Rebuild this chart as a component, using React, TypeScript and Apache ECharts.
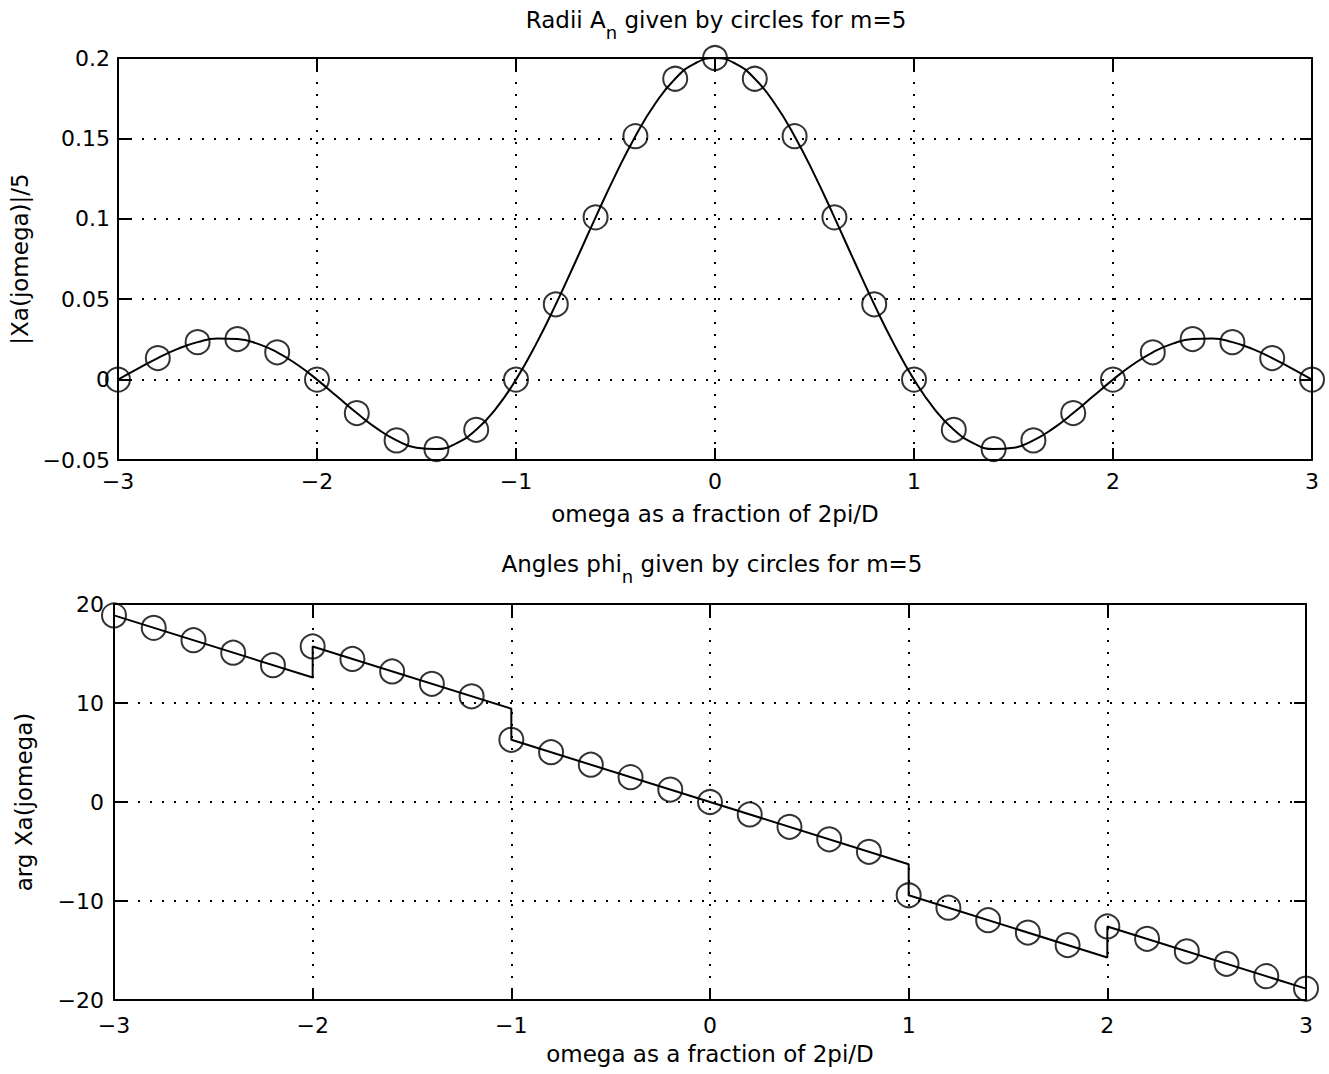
import React, { useEffect, useRef } from "react";
import * as echarts from "echarts";

// ---- Data ----
const curveX = [
  -3.0, -2.9, -2.8, -2.7, -2.6, -2.5, -2.4, -2.3, -2.2, -2.1,
  -2.0, -1.9, -1.8, -1.7, -1.6, -1.5, -1.4, -1.3, -1.2, -1.1,
  -1.0, -0.9, -0.8, -0.7, -0.6, -0.5, -0.4, -0.3, -0.2, -0.1,
  0.0, 0.1, 0.2, 0.3, 0.4, 0.5, 0.6, 0.7, 0.8, 0.9,
  1.0, 1.1, 1.2, 1.3, 1.4, 1.5, 1.6, 1.7, 1.8, 1.9,
  2.0, 2.1, 2.2, 2.3, 2.4, 2.5, 2.6, 2.7, 2.8, 2.9, 3.0,
];
const curveY = [
  0.0, 0.0068, 0.0134, 0.0191, 0.0233, 0.0255, 0.0252, 0.0224, 0.017, 0.0094,
  0.0, -0.0104, -0.0208, -0.0303, -0.0378, -0.0424, -0.0432, -0.0396, -0.0312, -0.0179,
  0.0, 0.0219, 0.0468, 0.0736, 0.1009, 0.1273, 0.1514, 0.1717, 0.1871, 0.1967,
  0.2, 0.1967, 0.1871, 0.1717, 0.1514, 0.1273, 0.1009, 0.0736, 0.0468, 0.0219,
  0.0, -0.0179, -0.0312, -0.0396, -0.0432, -0.0424, -0.0378, -0.0303, -0.0208, -0.0104,
  0.0, 0.0094, 0.017, 0.0224, 0.0252, 0.0255, 0.0233, 0.0191, 0.0134, 0.0068, 0.0,
];
const circleX = [
  -3.0, -2.8, -2.6, -2.4, -2.2, -2.0, -1.8, -1.6, -1.4, -1.2,
  -1.0, -0.8, -0.6, -0.4, -0.2, 0.0, 0.2, 0.4, 0.6, 0.8,
  1.0, 1.2, 1.4, 1.6, 1.8, 2.0, 2.2, 2.4, 2.6, 2.8, 3.0,
];
const radiiY = [
  0.0, 0.0134, 0.0233, 0.0252, 0.017, 0.0, -0.0208, -0.0378, -0.0432, -0.0312,
  0.0, 0.0468, 0.1009, 0.1514, 0.1871, 0.2, 0.1871, 0.1514, 0.1009, 0.0468,
  0.0, -0.0312, -0.0432, -0.0378, -0.0208, 0.0, 0.017, 0.0252, 0.0233, 0.0134, 0.0,
];
const anglesY = [
  18.85, 17.59, 16.34, 15.08, 13.82, 15.71, 14.45, 13.19, 11.94, 10.68,
  6.28, 5.03, 3.77, 2.51, 1.26, 0.0, -1.26, -2.51, -3.77, -5.03,
  -9.42, -10.68, -11.94, -13.19, -14.45, -12.57, -13.82, -15.08, -16.34, -17.59, -18.85,
];
const phaseLineX = [-3, -2, -2, -1, -1, 1, 1, 2, 2, 3];
const phaseLineY = [18.85, 12.57, 15.71, 9.42, 6.28, -6.28, -9.42, -15.71, -12.57, -18.85];

const xTicks = { min: -3, max: 3, interval: 1 };
const magTicks = { min: -0.05, max: 0.2, interval: 0.05 };
const phaseTicks = { min: -20, max: 20, interval: 10 };

const FONT = "'DejaVu Sans', 'Liberation Sans', Arial, sans-serif";
const zip = (xs: number[], ys: number[]) => xs.map((x, i) => [x, ys[i]]);
const fmt = (v: number) => {
  const s = String(Math.round(v * 1000) / 1000);
  return s.replace("-", "\u2212");
};

function mainAxis(kind: "x" | "y", grid: number, t: any, name: string, nameGap: number, labelMargin: number) {
  return {
    type: "value",
    gridIndex: grid,
    position: kind === "x" ? "bottom" : "left",
    min: t.min,
    max: t.max,
    interval: t.interval,
    name,
    nameLocation: "middle",
    nameGap,
    nameTextStyle: { color: "#000", fontFamily: FONT, fontSize: 23 },
    axisLine: { show: true, onZero: false, lineStyle: { color: "#000", width: 2 } },
    axisTick: { show: true, inside: true, length: 12, lineStyle: { color: "#000", width: 2 } },
    axisLabel: { color: "#000", fontFamily: FONT, fontSize: 22, margin: labelMargin, formatter: fmt },
    splitLine: { show: true, lineStyle: { color: "#000", width: 2, type: [2, 10] } },
  };
}
function sideAxis(kind: "x" | "y", grid: number, t: any) {
  return {
    type: "value",
    gridIndex: grid,
    position: kind === "x" ? "top" : "right",
    min: t.min,
    max: t.max,
    interval: t.interval,
    axisLine: { show: true, onZero: false, lineStyle: { color: "#000", width: 2 } },
    axisTick: { show: true, inside: true, length: 12, lineStyle: { color: "#000", width: 2 } },
    axisLabel: { show: false },
    splitLine: { show: false },
  };
}

const circleStyle = {
  color: "rgba(0,0,0,0)",
  borderColor: "#000",
  borderWidth: 2,
};

export default function App() {
  const ref = useRef<HTMLDivElement>(null);
  useEffect(() => {
    if (!ref.current) return;
    const chart = echarts.init(ref.current, null, { renderer: "svg" });
    const titleRich = {
      a: { fontSize: 23, fontFamily: FONT, fill: "#000", color: "#000", lineHeight: 23, verticalAlign: "top" },
      b: { fontSize: 18, fontFamily: FONT, fill: "#000", color: "#000", lineHeight: 18, verticalAlign: "top", padding: [15, 0, 0, 0] },
    };
    chart.setOption({
      animation: false,
      backgroundColor: "#fff",
      graphic: [
        {
          type: "text",
          x: 716,
          y: 8,
          style: {
            text: "{a|Radii A}{b|n}{a| given by circles for m=5}",
            rich: titleRich,
            align: "center",
            fill: "#000",
            font: `23px ${FONT}`,
          },
        },
        {
          type: "text",
          x: 712,
          y: 552,
          style: {
            text: "{a|Angles phi}{b|n}{a| given by circles for m=5}",
            rich: titleRich,
            align: "center",
            fill: "#000",
            font: `23px ${FONT}`,
          },
        },
      ],
      grid: [
        { left: 118, right: 17, top: 58, height: 402 },
        { left: 114, right: 23, top: 604, height: 396 },
      ],
      xAxis: [
        mainAxis("x", 0, xTicks, "omega as a fraction of 2pi/D", 42, 10),
        sideAxis("x", 0, xTicks),
        mainAxis("x", 1, xTicks, "omega as a fraction of 2pi/D", 42, 14),
        sideAxis("x", 1, xTicks),
      ],
      yAxis: [
        mainAxis("y", 0, magTicks, "|Xa(jomega)|/5", 84, 8),
        sideAxis("y", 0, magTicks),
        mainAxis("y", 1, phaseTicks, "arg Xa(jomega)", 79, 10),
        sideAxis("y", 1, phaseTicks),
      ],
      series: [
        {
          type: "line",
          xAxisIndex: 0,
          yAxisIndex: 0,
          data: zip(curveX, curveY),
          showSymbol: false,
          smooth: true,
          clip: false,
          lineStyle: { color: "#000", width: 2 },
        },
        {
          type: "scatter",
          xAxisIndex: 0,
          yAxisIndex: 0,
          data: zip(circleX, radiiY),
          symbol: "circle",
          symbolSize: 24,
          clip: false,
          itemStyle: circleStyle,
        },
        {
          type: "line",
          xAxisIndex: 2,
          yAxisIndex: 2,
          data: zip(phaseLineX, phaseLineY),
          showSymbol: false,
          clip: false,
          lineStyle: { color: "#000", width: 2 },
        },
        {
          type: "scatter",
          xAxisIndex: 2,
          yAxisIndex: 2,
          data: zip(circleX, anglesY),
          symbol: "circle",
          symbolSize: 24,
          clip: false,
          itemStyle: circleStyle,
        },
      ],
    });
    return () => chart.dispose();
  }, []);
  return (
    <div
      ref={ref}
      style={{ position: "fixed", left: 0, top: 0, width: 1329, height: 1074, background: "#fff" }}
    />
  );
}
